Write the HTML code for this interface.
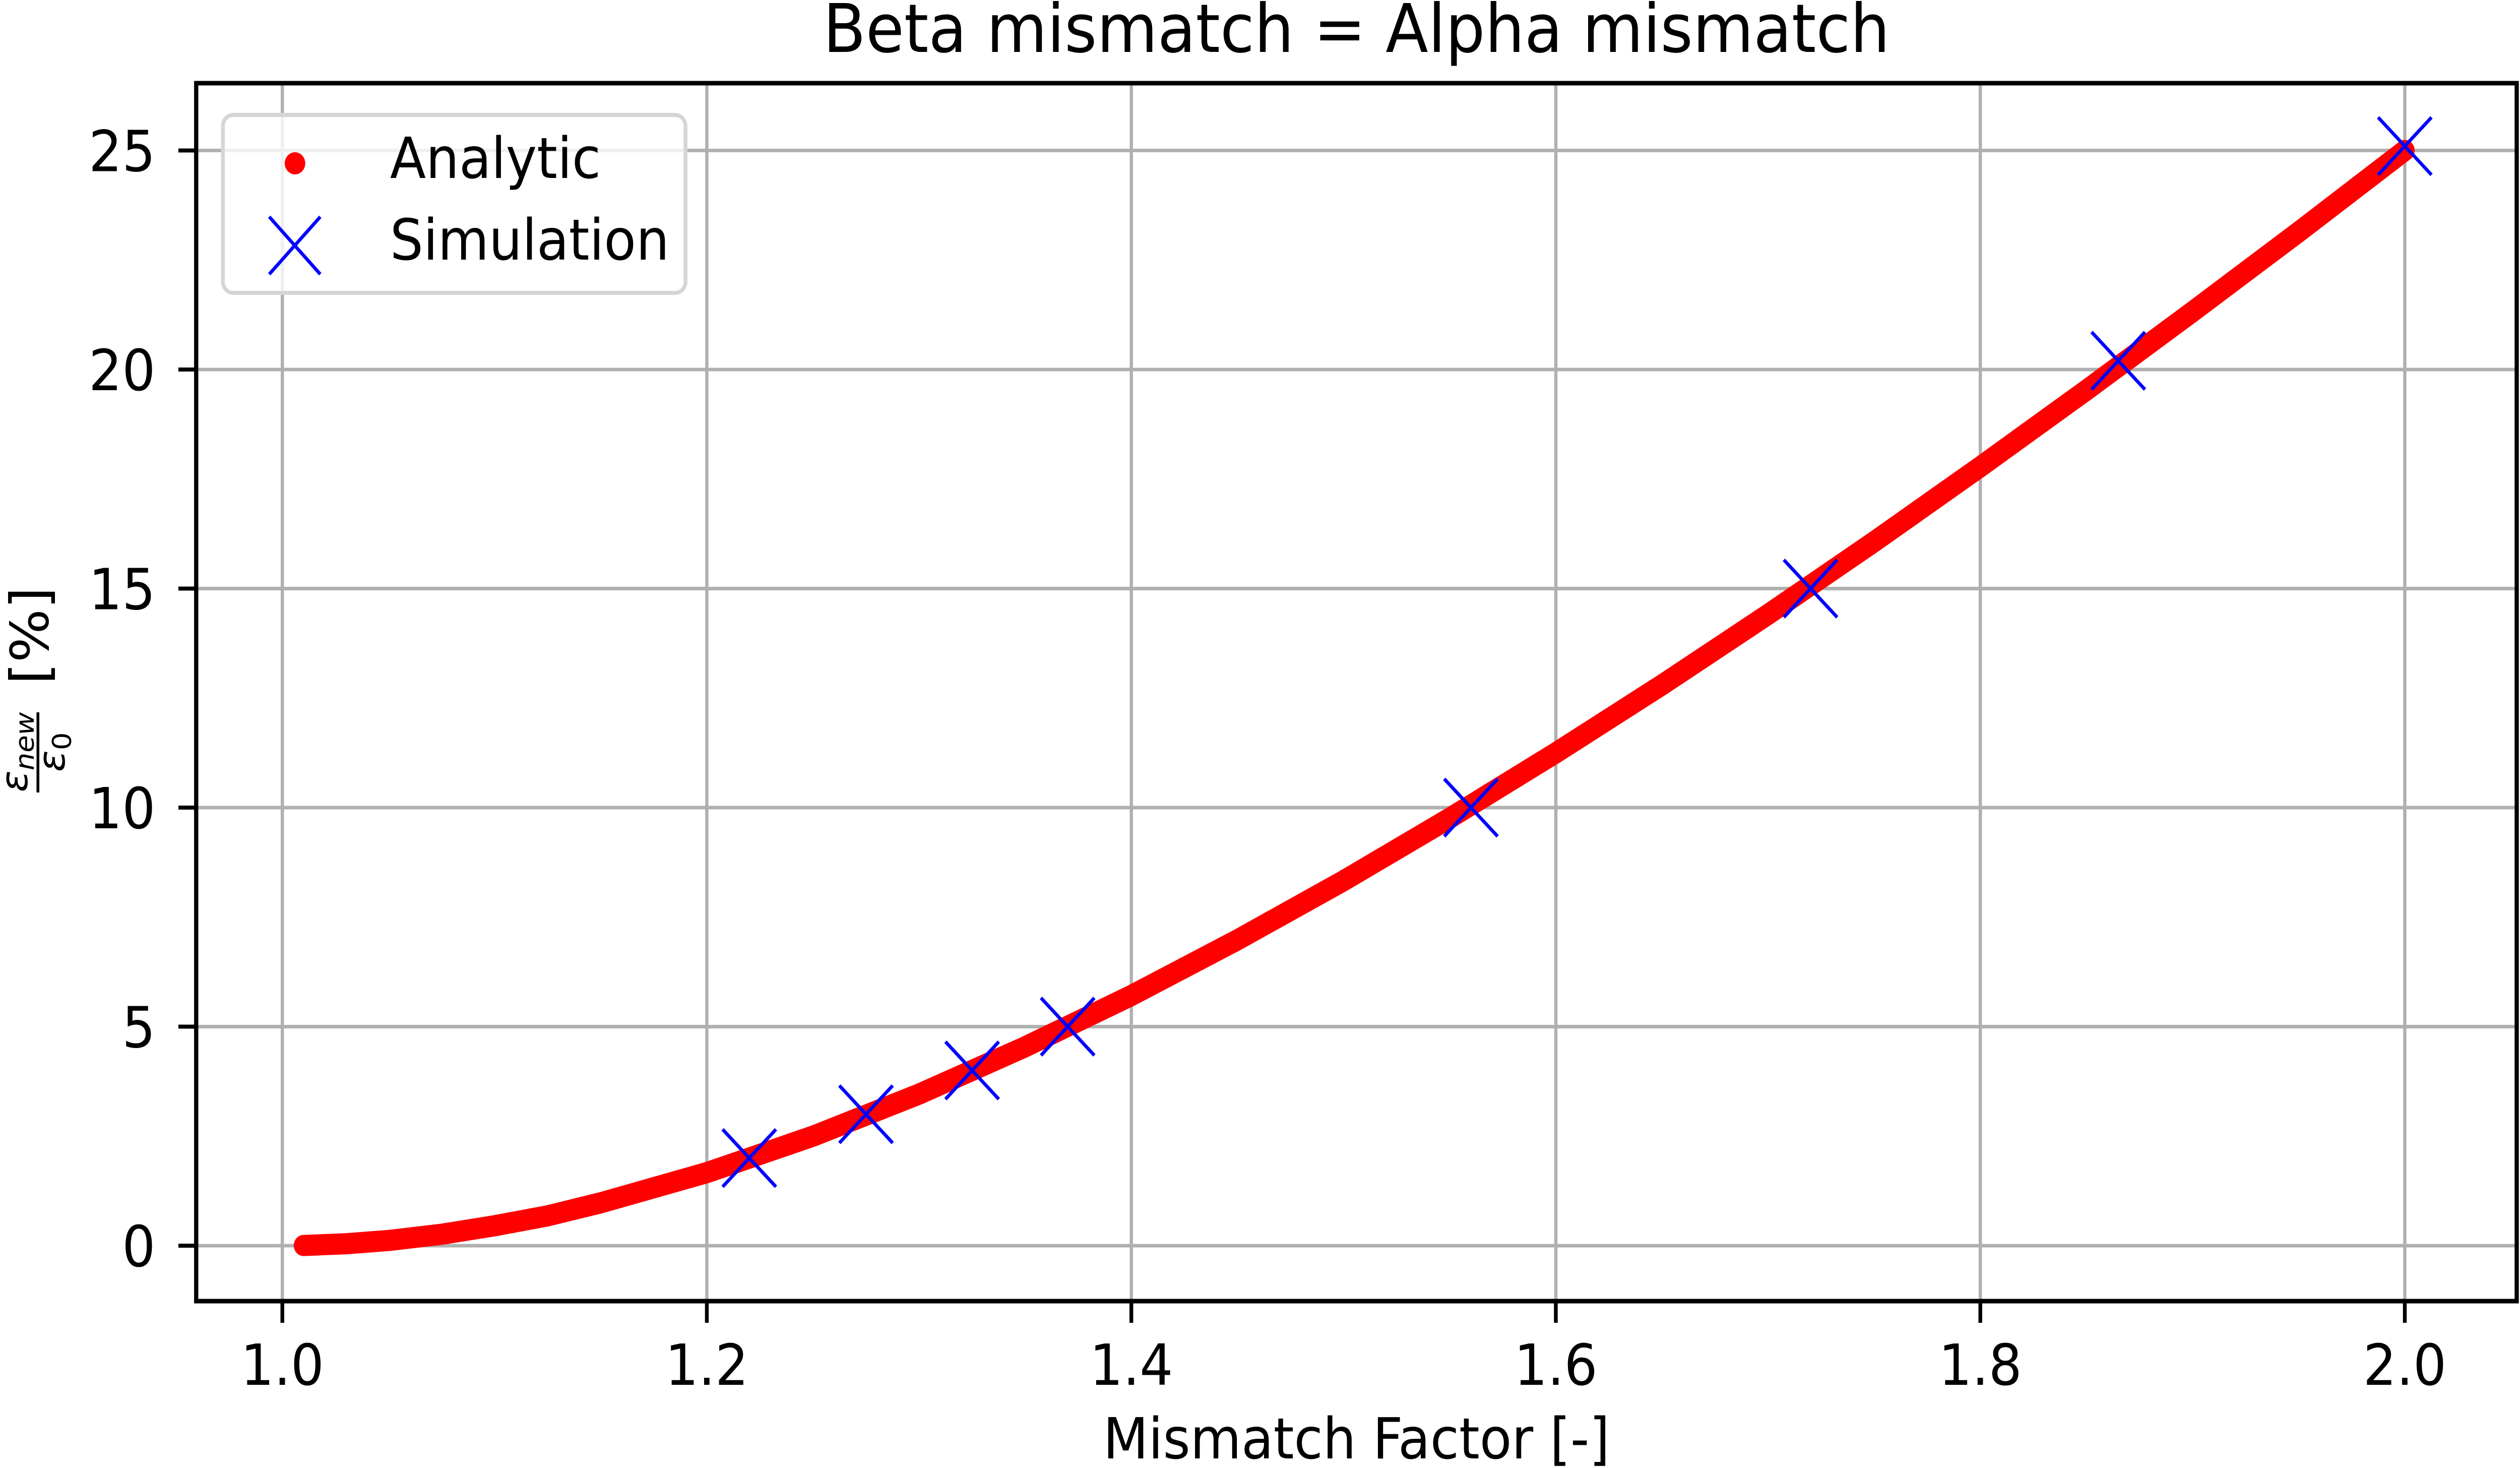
<!DOCTYPE html>
<html><head><meta charset="utf-8"><style>
html,body{margin:0;padding:0;background:#fff;overflow:hidden;width:100vw;height:100vh;}
svg{display:block;position:absolute;left:0;top:0;width:100vw;height:100vh;font-family:"DejaVu Sans","Liberation Sans",sans-serif;}
</style></head><body>
<svg id="chart" viewBox="0 0 5382 2912" preserveAspectRatio="none" xmlns="http://www.w3.org/2000/svg">
<rect x="0" y="0" width="5382" height="2912" fill="#fff"/>
<g id="grid"></g>
<g id="series"></g>
<rect x="419" y="165" width="4956" height="2416" fill="none" stroke="#000" stroke-width="9"/>
<g id="ticks"></g>
<text x="2897" y="103" font-size="133" text-anchor="middle">Beta mismatch = Alpha mismatch</text>
<text x="2897" y="2893" font-size="112" text-anchor="middle">Mismatch Factor [-]</text>
<g transform="rotate(-90)">
  <text x="-1358" y="103" font-size="112">[%]</text>
  <line x1="-1572" y1="81" x2="-1413" y2="81" stroke="#000" stroke-width="6"/>
  <text x="-1492" y="58" font-size="80" text-anchor="middle" font-style="italic">ε<tspan font-size="56" dy="14">new</tspan></text>
  <text x="-1492" y="138" font-size="80" text-anchor="middle" font-style="italic">ε<tspan font-size="56" font-style="normal" dy="14">0</tspan></text>
</g>
<g>
  <rect x="476" y="228" width="988" height="353" rx="22" fill="#fff" fill-opacity="0.8" stroke="#d5d5d5" stroke-width="8"/>
  <circle cx="630" cy="324" r="22" fill="#ff0000"/>
  <text x="833" y="353" font-size="112">Analytic</text>
  <path d="M575 430 L684 544 M684 430 L575 544" stroke="#0000ff" stroke-width="7" fill="none"/>
  <text x="833" y="515" font-size="112">Simulation</text>
</g>
</svg>
<script>
const xTicks = [1.0, 1.2, 1.4, 1.6, 1.8, 2.0];
const xTickLabels = ["1.0", "1.2", "1.4", "1.6", "1.8", "2.0"];
const yTicks = [0, 5, 10, 15, 20, 25];
const yTickLabels = ["0", "5", "10", "15", "20", "25"];
const analyticX = [1.01,1.03,1.05,1.075,1.1,1.125,1.15,1.2,1.25,1.3,1.35,1.4,1.45,1.5,1.55,1.6,1.65,1.7,1.75,1.8,1.85,1.9,1.95,2.0];
const analyticY = [0.005,0.044,0.119,0.260,0.455,0.681,0.978,1.667,2.5,3.46,4.54,5.71,6.98,8.33,9.76,11.25,12.80,14.41,16.07,17.78,19.53,21.32,23.14,25.0];
const simX = [1.22, 1.275, 1.325, 1.37, 1.56, 1.72, 1.865, 2.0];
const simY = [2.0, 3.0, 4.0, 5.0, 10.0, 15.0, 20.2, 25.1];

const NS = "http://www.w3.org/2000/svg";
const X0 = 603, XS = 4533;
const Y0 = 2471, YS = 86.9;
const AX_L = 419, AX_R = 5375, AX_T = 165, AX_B = 2585;
function sx(v){ return X0 + (v - 1.0) * XS; }
function sy(v){ return Y0 - v * YS; }
function mk(tag, attrs, parent){
  const el = document.createElementNS(NS, tag);
  for (const k in attrs) el.setAttribute(k, attrs[k]);
  parent.appendChild(el);
  return el;
}
const grid = document.getElementById('grid');
const ticks = document.getElementById('ticks');
const series = document.getElementById('series');

xTicks.forEach((t, i) => {
  const x = sx(t);
  const g = mk('line', {x1:x, y1:AX_T, x2:x, y2:AX_B, stroke:'#b0b0b0', 'stroke-width':7}, grid);
  
  
  const tk = mk('line', {x1:x, y1:AX_B, x2:x, y2:AX_B + 39, stroke:'#000', 'stroke-width':8}, ticks);
  
  
  const lb = mk('text', {x:x, y:2747, 'font-size':112, 'text-anchor':'middle'}, ticks);
  lb.textContent = xTickLabels[i];
  
  
});
yTicks.forEach((t, i) => {
  const y = sy(t);
  const g = mk('line', {x1:AX_L, y1:y, x2:AX_R, y2:y, stroke:'#b0b0b0', 'stroke-width':7}, grid);
  
  
  const tk = mk('line', {x1:AX_L - 38, y1:y, x2:AX_L, y2:y, stroke:'#000', 'stroke-width':8}, ticks);
  
  
  const lb = mk('text', {x:332, y:y + 41, 'font-size':112, 'text-anchor':'end'}, ticks);
  lb.textContent = yTickLabels[i];
  
  
});

const pts = analyticX.map((v, i) => sx(v).toFixed(1) + ',' + sy(analyticY[i]).toFixed(1)).join(' ');
const line = mk('polyline', {points:pts, fill:'none', stroke:'#ff0000', 'stroke-width':42, 'stroke-linecap':'round', 'stroke-linejoin':'round'}, series);



simX.forEach((v, i) => {
  const cx = sx(v), cy = sy(simY[i]), h = 57;
  const p = mk('path', {d:`M${cx-h} ${cy-h} L${cx+h} ${cy+h} M${cx+h} ${cy-h} L${cx-h} ${cy+h}`, stroke:'#0000ff', 'stroke-width':7, fill:'none'}, series);
  
  
});
</script>
</body></html>
